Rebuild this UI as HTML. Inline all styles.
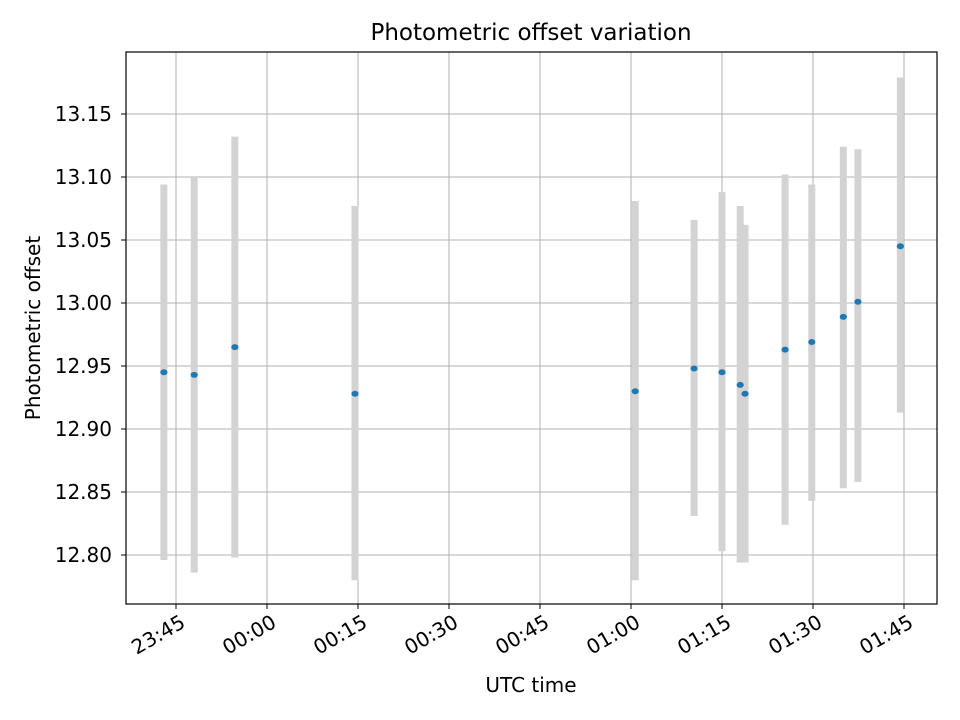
<!DOCTYPE html>
<html><head><meta charset="utf-8"><style>body{margin:0;background:#fff}svg{display:block;font-family:"DejaVu Sans","Liberation Sans",sans-serif}</style></head>
<body>
<svg id="chart" width="960" height="720" xmlns="http://www.w3.org/2000/svg">
<rect width="960" height="720" fill="#fff"/>
<g id="grid"></g>
<g id="bars"></g>
<g id="pts"></g>
<rect x="126" y="52" width="811" height="552" fill="none" stroke="#000" stroke-width="1.2"/>
<g id="axes"></g>
<text x="531" y="40" text-anchor="middle" font-size="23">Photometric offset variation</text>
<text x="531" y="692" text-anchor="middle" font-size="20">UTC time</text>
<text transform="translate(40,328) rotate(-90)" text-anchor="middle" font-size="20">Photometric offset</text>
</svg>
<script>
// minutes since 23:45 UTC
const times=[-2,3,9.7,29.5,75.7,85.4,90,93,93.8,100.4,104.8,110,112.4,119.4];
const values=[12.945,12.943,12.965,12.928,12.930,12.948,12.945,12.935,12.928,12.963,12.969,12.989,13.001,13.045];
const upper=[13.094,13.100,13.132,13.077,13.081,13.066,13.088,13.077,13.062,13.102,13.094,13.124,13.122,13.179];
const lower=[12.796,12.786,12.798,12.780,12.780,12.831,12.803,12.794,12.794,12.824,12.843,12.853,12.858,12.913];
const xTicks=[0,15,30,45,60,75,90,105,120];
const xTickLabels=["23:45","00:00","00:15","00:30","00:45","01:00","01:15","01:30","01:45"];
const yTicks=[12.80,12.85,12.90,12.95,13.00,13.05,13.10,13.15];
const NS="http://www.w3.org/2000/svg";
const X=m=>176+m*(91/15);
const Y=v=>555-(v-12.80)*1260;
function mk(t,a,p){const e=document.createElementNS(NS,t);for(const k in a)e.setAttribute(k,a[k]);p.appendChild(e);return e;}
const grid=document.getElementById('grid'),axes=document.getElementById('axes'),bars=document.getElementById('bars'),pts=document.getElementById('pts');
xTicks.forEach((t,i)=>{const x=X(t);
 const g=mk('line',{x1:x,x2:x,y1:52,y2:604,stroke:'#b0b0b0','stroke-width':1},grid);
 
 mk('line',{x1:x,x2:x,y1:604,y2:609,stroke:'#000'},axes);
 const tx=mk('text',{transform:`translate(${x+3},${613}) rotate(-30)`,'text-anchor':'end','font-size':'20','dominant-baseline':'hanging'},axes);
 
 tx.textContent=xTickLabels[i];});
yTicks.forEach(t=>{const y=Y(t);
 const g=mk('line',{x1:126,x2:937,y1:y,y2:y,stroke:'#b0b0b0','stroke-width':1},grid);
 
 mk('line',{x1:121,x2:126,y1:y,y2:y,stroke:'#000'},axes);
 const tx=mk('text',{x:112,y:y+7,'text-anchor':'end','font-size':'20'},axes);
 
 tx.textContent=t.toFixed(2);});
times.forEach((t,i)=>{const x=X(t);
 const b=mk('line',{x1:x,x2:x,y1:Y(upper[i]),y2:Y(lower[i]),stroke:'#d3d3d3','stroke-width':7},bars);
 
 const c=mk('ellipse',{cx:x,cy:Y(values[i]),rx:3.6,ry:3,fill:'#1f77b4'},pts);
 });
</script>
</body></html>
